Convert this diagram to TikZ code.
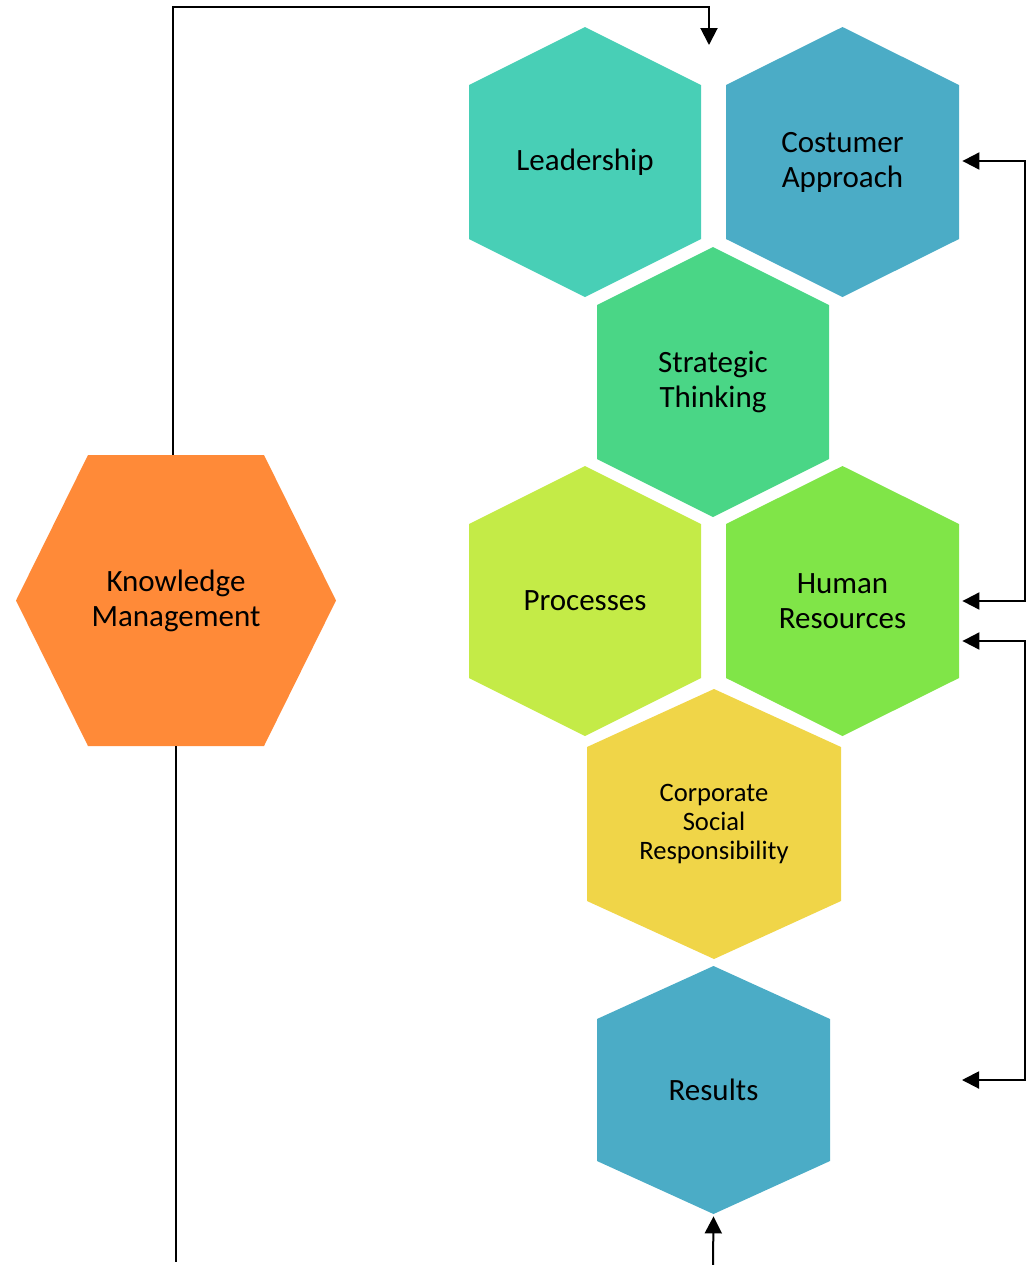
\documentclass[tikz,border=0pt]{standalone}
\usepackage{fontspec}
\setmainfont{Carlito}
\usepackage{tikz}
\usetikzlibrary{arrows.meta}
\definecolor{leadc}{HTML}{48CFB6}
\definecolor{custc}{HTML}{4BACC6}
\definecolor{stratc}{HTML}{4AD686}
\definecolor{procc}{HTML}{C4EB47}
\definecolor{hrc}{HTML}{80E548}
\definecolor{csrc}{HTML}{F0D548}
\definecolor{kmc}{HTML}{FF8A38}
\tikzset{
	hexv/.style n args={4}{minimum width=#2, minimum height=#3, inner sep=0pt, align=center,
		path picture={\fill[#1] (path picture bounding box.north)
			-- ([yshift=-#4]path picture bounding box.north east)
			-- ([yshift=#4]path picture bounding box.south east)
			-- (path picture bounding box.south)
			-- ([yshift=#4]path picture bounding box.south west)
			-- ([yshift=-#4]path picture bounding box.north west) -- cycle;}},
	hexh/.style n args={4}{minimum width=#2, minimum height=#3, inner sep=0pt, align=center,
		path picture={\fill[#1] ([xshift=#4]path picture bounding box.north west)
			-- ([xshift=-#4]path picture bounding box.north east)
			-- (path picture bounding box.east)
			-- ([xshift=-#4]path picture bounding box.south east)
			-- ([xshift=#4]path picture bounding box.south west)
			-- (path picture bounding box.west) -- cycle;}},
	arr/.style={line width=1pt, -{Triangle[length=8.5pt,width=8.5pt]}},
	every node/.style={font=\fontsize{15.5}{17.5}\selectfont}
}
\begin{document}
\begin{tikzpicture}[x=0.5pt, y=-0.5pt]
			\useasboundingbox (0,0) rectangle (1028,1265);
			% hexagons
			\node (lead) [hexv={leadc}{116pt}{135pt}{29pt}] at (585,162) {Leadership};
			\node (cust) [hexv={custc}{116.5pt}{135pt}{29pt}] at (842.5,162) {Costumer\\Approach};
			\node (strat) [hexv={stratc}{116pt}{135pt}{29pt}] at (713,382) {Strategic\\Thinking};
			\node (proc) [hexv={procc}{116pt}{135pt}{29pt}] at (585,601) {Processes};
			\node (hr) [hexv={hrc}{116.5pt}{135pt}{29pt}] at (842.5,601) {Human\\Resources};
			\node (csr) [hexv={csrc}{127pt}{135pt}{29pt}, font=\fontsize{13.3}{14.5}\selectfont] at (714,824) {Corporate\\Social\\Responsibility};
			\node (res) [hexv={custc}{116.5pt}{124pt}{26.5pt}] at (713.5,1090) {Results};
			\node (km) [hexh={kmc}{160pt}{145.5pt}{36pt}] at (176,600.5) {Knowledge\\Management};
			% connectors
			\coordinate (topy) at (0,7);
			\coordinate (gap) at (709,45);
			\coordinate (kmend) at (176,1262);
			\coordinate (resfoot) at (713,1265);
			\coordinate (resin) at (962,1080);
			\draw [arr] ([xshift=-1.5pt]km.north) |- (gap |- topy) -- (gap);
			\draw [line width=1pt] (km.south) -- (kmend);
			\draw [arr] (resfoot) -- ([yshift=-1pt]res.south);
			\draw [arr] (1025,601) |- ([xshift=1.5pt,yshift=0.5pt]cust.east);
			\draw [arr] (1025,161) |- ([xshift=1.5pt]hr.east);
			\draw [arr] (1025,1080) |- ([xshift=1.5pt,yshift=-20pt]hr.east);
			\draw [arr] (1025,641) |- (resin);
		\end{tikzpicture}
\end{document}
